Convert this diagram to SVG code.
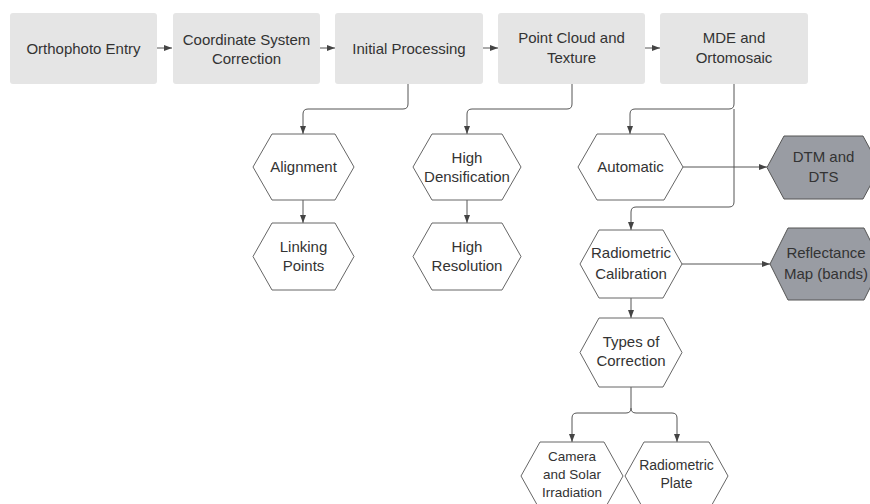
<svg xmlns="http://www.w3.org/2000/svg" width="870" height="504" viewBox="0 0 870 504">
<defs>
<marker id="ah" markerWidth="8" markerHeight="6" refX="8" refY="3" orient="auto" markerUnits="userSpaceOnUse">
<path d="M0,0 L8,3 L0,6 Z" fill="#444"/>
</marker>
<style>
.box{fill:#e5e5e5;stroke:none}
.hex{fill:#fff;stroke:#666;stroke-width:1;stroke-linejoin:round}
.dark{fill:#999ca3;stroke:#555;stroke-width:1;stroke-linejoin:round}
.t{font-family:"Liberation Sans",Arial,sans-serif;font-size:15px;fill:#333;text-anchor:middle;dominant-baseline:central}
.s{font-size:13.5px}
.m{font-size:14px}
.c{fill:none;stroke:#555;stroke-width:1}
</style>
</defs>
<rect width="870" height="504" fill="#fff"/>
<g id="connectors">
<path class="c" d="M157,48 H172" marker-end="url(#ah)"/>
<path class="c" d="M320,48 H335" marker-end="url(#ah)"/>
<path class="c" d="M483,48 H498" marker-end="url(#ah)"/>
<path class="c" d="M645,48 H660" marker-end="url(#ah)"/>
<path class="c" d="M408,84 V104 Q408,109 403,109 H308 Q303,109 303,114 V134" marker-end="url(#ah)"/>
<path class="c" d="M572,84 V104 Q572,109 567,109 H472 Q467,109 467,114 V134" marker-end="url(#ah)"/>
<path class="c" d="M734,84 V104 Q734,109 729,109 H635 Q630,109 630,114 V134" marker-end="url(#ah)"/>
<path class="c" d="M734,109 V202 Q734,207 729,207 H636 Q631,207 631,212 V230" marker-end="url(#ah)"/>
<path class="c" d="M683,167 H767" marker-end="url(#ah)"/>
<path class="c" d="M682,264 H770" marker-end="url(#ah)"/>
<path class="c" d="M303,200 V223" marker-end="url(#ah)"/>
<path class="c" d="M467,200 V223" marker-end="url(#ah)"/>
<path class="c" d="M631,298 V318" marker-end="url(#ah)"/>
<path class="c" d="M631,387 V408 Q631,413 626,413 H577 Q572,413 572,418 V442" marker-end="url(#ah)"/>
<path class="c" d="M631,408 Q631,413 636,413 H672 Q677,413 677,418 V442" marker-end="url(#ah)"/>
</g>
<g id="n1"><rect class="box" x="10" y="13" width="147" height="71" rx="3"/><text class="t" x="83.5" y="48">Orthophoto Entry</text></g>
<g id="n2"><rect class="box" x="173" y="13" width="147" height="71" rx="3"/><text class="t" x="246.5" y="39">Coordinate System</text><text class="t" x="246.5" y="58.5">Correction</text></g>
<g id="n3"><rect class="box" x="335" y="13" width="148" height="71" rx="3"/><text class="t" x="409" y="48">Initial Processing</text></g>
<g id="n4"><rect class="box" x="498" y="13" width="147" height="71" rx="3"/><text class="t" x="571.5" y="37.5">Point Cloud and</text><text class="t" x="571.5" y="57">Texture</text></g>
<g id="n5"><rect class="box" x="660" y="13" width="148" height="71" rx="3"/><text class="t" x="734" y="37.5">MDE and</text><text class="t" x="734" y="57">Ortomosaic</text></g>
<g id="alignment"><path class="hex" d="M253,167 L272,134 H335 L354,167 L335,200 H272 Z"/><text class="t" x="303.5" y="166">Alignment</text></g>
<g id="linking"><path class="hex" d="M253,256.5 L272,223 H335 L354,256.5 L335,290 H272 Z"/><text class="t" x="303.5" y="246">Linking</text><text class="t" x="303.5" y="265.5">Points</text></g>
<g id="highdens"><path class="hex" d="M413,167 L432,134 H502 L521,167 L502,200 H432 Z"/><text class="t" x="467" y="157">High</text><text class="t" x="467" y="176">Densification</text></g>
<g id="highres"><path class="hex" d="M413,256.5 L432,223 H502 L521,256.5 L502,290 H432 Z"/><text class="t" x="467" y="246">High</text><text class="t" x="467" y="265.5">Resolution</text></g>
<g id="automatic"><path class="hex" d="M578,167 L597,134 H664 L683,167 L664,200 H597 Z"/><text class="t" x="630.5" y="166">Automatic</text></g>
<g id="dtm"><path class="dark" d="M767,167.5 L784,136 H863 L880,167.5 L863,199 H784 Z"/><text class="t" x="823.5" y="156.5">DTM and</text><text class="t" x="823.5" y="176.5">DTS</text></g>
<g id="radcal"><path class="hex" d="M580,264 L599,230 H663 L682,264 L663,298 H599 Z"/><text class="t" x="631" y="252.5">Radiometric</text><text class="t" x="631" y="273">Calibration</text></g>
<g id="reflect"><path class="dark" d="M770,264 L788,228 H864 L882,264 L864,300 H788 Z"/><text class="t" x="826" y="252.5">Reflectance</text><text class="t" x="826" y="273">Map (bands)</text></g>
<g id="types"><path class="hex" d="M580,352.5 L599,318 H663 L682,352.5 L663,387 H599 Z"/><text class="t" x="631" y="341.5">Types of</text><text class="t" x="631" y="360.5">Correction</text></g>
<g id="camera"><path class="hex" d="M521,476 L540,442 H604 L623,476 L604,510 H540 Z"/><text class="t s" x="572" y="456">Camera</text><text class="t s" x="572" y="474">and Solar</text><text class="t s" x="572" y="492">Irradiation</text></g>
<g id="plate"><path class="hex" d="M625,476 L644,442 H709 L728,476 L709,510 H644 Z"/><text class="t m" x="676.5" y="464.5">Radiometric</text><text class="t m" x="676.5" y="483">Plate</text></g>
</svg>
